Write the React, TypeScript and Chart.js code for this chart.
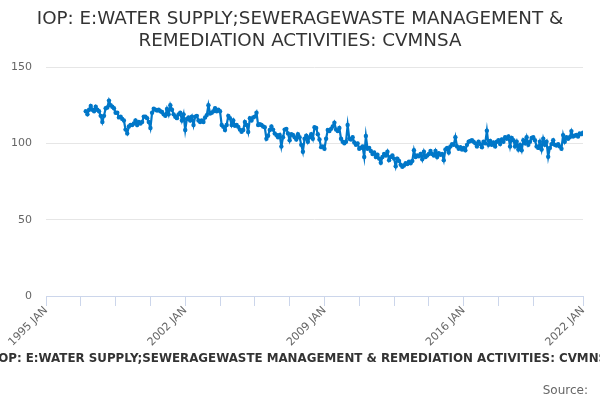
import React, { useEffect, useRef } from "react";
import { Chart, registerables } from "chart.js";

Chart.register(...registerables);

const titleLines = [
  "IOP: E:WATER SUPPLY;SEWERAGEWASTE MANAGEMENT &",
  "REMEDIATION ACTIVITIES: CVMNSA",
];
const seriesName =
  "IOP: E:WATER SUPPLY;SEWERAGEWASTE MANAGEMENT & REMEDIATION ACTIVITIES: CVMNSA";
const sourceText = "Source:";

// axis runs in months counted from 1995 JAN
const axisStartYear = 1995;
const firstYear = 1997; // first observation: 1997 JAN
const axisEndMonth = 324; // 2022 JAN
const tickMonths = [0, 21, 42, 63, 84, 105, 126, 147, 168, 189, 210, 231, 252, 273, 294, 324];
const tickLabels: Record<number, string> = {
  0: "1995 JAN",
  84: "2002 JAN",
  168: "2009 JAN",
  252: "2016 JAN",
  324: "2022 JAN",
};
const yTicks = [0, 50, 100, 150];

// monthly index values, 1997 JAN .. 2022 JAN
const values = [
  121, 119, 122, 124.5, 122, 121, 124, 122, 121, 118, 114, 118, // 1997
  123, 123.5, 128, 125, 124, 123, 120, 120, 117, 117.5, 116, 115, // 1998
  109, 106.5, 111, 112, 112, 113, 115, 112, 114, 113, 114, 117.5, // 1999
  117.5, 116.5, 114, 110, 120, 122.7, 122, 121.5, 122, 121, 120.5, 119, // 2000
  118, 122.5, 119, 125, 122, 119, 117.4, 116.5, 119, 120, 115, 119, // 2001
  108.7, 116, 117, 115, 117.5, 112, 117.5, 118, 115, 114, 115, 114, // 2002
  117, 118.5, 125, 119.5, 120, 121, 123, 121, 122, 121, 112, 110.8, // 2003
  108.7, 112, 118, 116.5, 112, 115, 111.5, 112, 110.8, 109, 107.6, 108.7, // 2004
  114, 112, 107.5, 116.4, 115, 117, 117.5, 120, 112, 112.5, 112, 111, // 2005
  110.5, 103, 105, 108.7, 111, 109, 106.5, 105.5, 104, 105.5, 98, 104, // 2006
  109, 109.5, 106.5, 102, 106, 105.5, 104, 102.5, 106, 104, 99, 94.5, // 2007
  103, 105, 101, 104, 106, 103, 110.5, 110, 106, 102.5, 97.5, 98, // 2008
  96.5, 103, 108.7, 108, 109.5, 111, 113.5, 109, 108, 110, 103, 101, // 2009
  100, 101, 112, 103, 102.5, 104, 100.5, 99, 100, 96.5, 97, 98, // 2010
  91, 104.8, 96.5, 97, 95, 93, 94, 91, 92.5, 90, 87.3, 91, // 2011
  93, 92, 94.5, 89, 91, 92, 90, 85, 90, 88.5, 86, 84.7, // 2012
  85.5, 87, 86.5, 88, 87, 88.5, 95.5, 91, 92, 91.5, 93, 89.5, // 2013
  94.5, 91, 92, 93, 95, 93, 92, 95, 91, 93.5, 92.5, 93, // 2014
  89, 96, 97, 94, 98, 99.5, 99, 104, 98, 96.5, 97.5, 96, // 2015
  97, 95.5, 99, 101, 101.5, 102, 101, 100, 98, 101, 99.5, 97.5, // 2016
  101, 100, 108.3, 99, 101.5, 99, 100.5, 98, 101, 102, 99.5, 102.5, // 2017
  101, 104, 103, 104.5, 98, 103.5, 102, 98, 101, 96, 99, 95.5, // 2018
  102, 100, 104, 99, 101, 103.5, 104, 102, 98, 97, 101, 96, // 2019
  103, 99, 101, 91.2, 97, 99.5, 102, 99, 98.5, 99.5, 98, 96.5, // 2020
  105.4, 101, 104, 103, 104, 108, 104.5, 105, 105.5, 104.5, 106.5, 106, // 2021
  107, // 2022
];

const lineColor = "#0077c8";
const font = "'DejaVu Sans', sans-serif";

// titles and footer drawn straight onto the canvas
const textPlugin = {
  id: "textBlocks",
  afterDraw(chart: Chart) {
    const ctx = chart.ctx;
    ctx.save();
    ctx.textAlign = "center";
    ctx.textBaseline = "alphabetic";
    ctx.fillStyle = "#333333";
    ctx.font = `18.3px ${font}`;
    titleLines.forEach((t, i) => ctx.fillText(t, 300, 24 + i * 22));
    ctx.font = `bold 11.85px ${font}`;
    ctx.fillText(seriesName, 305, 362);
    ctx.textAlign = "right";
    ctx.fillStyle = "#666666";
    ctx.font = `12px ${font}`;
    ctx.fillText(sourceText, 588, 394);
    ctx.restore();
  },
};

export default function App() {
  const canvasRef = useRef<HTMLCanvasElement>(null);

  useEffect(() => {
    if (!canvasRef.current) return;
    const offset = (firstYear - axisStartYear) * 12;
    const points = values.map((v, i) => ({ x: offset + i, y: v }));

    const chart = new Chart(canvasRef.current, {
      type: "line",
      data: {
        datasets: [
          {
            label: seriesName,
            data: points,
            borderColor: lineColor,
            backgroundColor: lineColor,
            borderWidth: 2.2,
            pointRadius: 2.2,
            pointBorderWidth: 0,
            tension: 0,
          },
        ],
      },
      options: {
        animation: false,
        responsive: true,
        maintainAspectRatio: false,
        layout: { padding: { top: 67, right: 17, bottom: 50, left: 0 } },
        plugins: {
          legend: { display: false },
          tooltip: { enabled: false },
          title: { display: false },
        },
        scales: {
          x: {
            type: "linear",
            min: 0,
            max: axisEndMonth,
            afterBuildTicks: (scale: any) => {
              scale.ticks = tickMonths.map((v) => ({ value: v }));
            },
            afterFit: (scale: any) => {
              scale.height = 54;
            },
            ticks: {
              autoSkip: false,
              maxRotation: 45,
              minRotation: 45,
              padding: -2,
              color: "#666666",
              font: { family: font, size: 11 },
              callback: (v: any) => tickLabels[v as number] ?? "",
            },
            grid: {
              drawOnChartArea: false,
              drawTicks: true,
              tickLength: 10,
              color: "#ccd6eb",
            },
            border: { color: "#ccd6eb" },
          },
          y: {
            min: 0,
            max: 150,
            afterBuildTicks: (scale: any) => {
              scale.ticks = yTicks.map((v) => ({ value: v }));
            },
            afterFit: (scale: any) => {
              scale.width = 46;
            },
            ticks: {
              padding: 14,
              color: "#666666",
              font: { family: font, size: 11 },
            },
            grid: { color: "#e6e6e6", drawTicks: false },
            border: { display: false },
          },
        },
      },
      plugins: [textPlugin],
    });
    return () => {
      chart.destroy();
    };
  }, []);

  return (
    <div
      style={{
        position: "fixed",
        left: 0,
        top: 0,
        width: 600,
        height: 400,
        background: "#ffffff",
      }}
    >
      <canvas ref={canvasRef} />
    </div>
  );
}
